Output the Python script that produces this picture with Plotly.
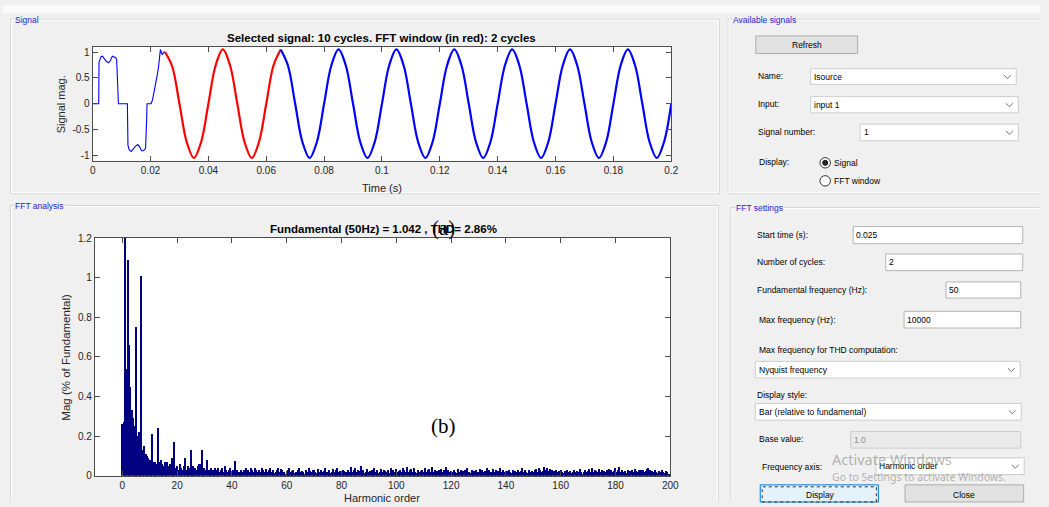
import plotly.graph_objects as go

W, H = 1049, 507
UI_FONT = "Liberation Sans, Arial, sans-serif"
SERIF = "Liberation Serif, Times New Roman, serif"

# ---------------- data ----------------
# transient part of the selected signal (first cycle + start of second)
SIGNAL_T_TRANSIENT = [0.0, 0.0021, 0.0022, 0.0025, 0.0029, 0.0034, 0.0040, 0.0047, 0.0055, 0.0062,
                      0.0068, 0.0074, 0.0080, 0.0083, 0.0086, 0.0089,
                      0.0120, 0.0122, 0.0125, 0.0129, 0.0134, 0.0140, 0.0148, 0.0156, 0.0163,
                      0.0169, 0.0175, 0.0180, 0.0183, 0.0186, 0.0188,
                      0.0202, 0.0207, 0.0212, 0.0217, 0.0223, 0.0228, 0.0232, 0.0234, 0.0237,
                      0.0240, 0.0243, 0.0246, 0.0250]
SIGNAL_V_TRANSIENT = [0.0, 0.0, 0.80, 0.87, 0.91, 0.92, 0.88, 0.82, 0.79, 0.84,
                      0.92, 0.91, 0.89, 0.85, 0.40, 0.0,
                      0.0, -0.80, -0.87, -0.91, -0.92, -0.88, -0.82, -0.79, -0.84,
                      -0.91, -0.91, -0.89, -0.85, -0.40, 0.0,
                      0.0, 0.08, 0.22, 0.35, 0.55, 0.72, 0.95, 1.05, 1.00,
                      0.95, 0.97, 1.00, 1.00]

# FFT window (red), 2 cycles
SIGNAL_T_WINDOW = [0.025, 0.0275, 0.03, 0.0325, 0.035, 0.0375, 0.04, 0.0425, 0.045, 0.0475,
                   0.05, 0.0525, 0.055, 0.0575, 0.06, 0.0625, 0.065]
SIGNAL_V_WINDOW = [1.00, 0.72, 0.0, -0.74, -1.05, -0.74, 0.0, 0.74, 1.05, 0.74,
                   0.0, -0.74, -1.05, -0.74, 0.0, 0.74, 1.05]

# remaining steady-state signal (blue)
SIGNAL_T_REST = [0.065, 0.0675, 0.07, 0.0725, 0.075, 0.0775, 0.08, 0.0825,
                 0.085, 0.0875, 0.09, 0.0925, 0.095, 0.0975, 0.1, 0.1025,
                 0.105, 0.1075, 0.11, 0.1125, 0.115, 0.1175, 0.12, 0.1225,
                 0.125, 0.1275, 0.13, 0.1325, 0.135, 0.1375, 0.14, 0.1425,
                 0.145, 0.1475, 0.15, 0.1525, 0.155, 0.1575, 0.16, 0.1625,
                 0.165, 0.1675, 0.17, 0.1725, 0.175, 0.1775, 0.18, 0.1825,
                 0.185, 0.1875, 0.19, 0.1925, 0.195, 0.1975, 0.2]
SIGNAL_V_REST = [1.05, 0.74, 0.0, -0.74, -1.05, -0.74, 0.0, 0.74,
                 1.05, 0.74, 0.0, -0.74, -1.05, -0.74, 0.0, 0.74,
                 1.05, 0.74, 0.0, -0.74, -1.05, -0.74, 0.0, 0.74,
                 1.05, 0.74, 0.0, -0.74, -1.05, -0.74, 0.0, 0.74,
                 1.05, 0.74, 0.0, -0.74, -1.05, -0.74, 0.0, 0.74,
                 1.05, 0.74, 0.0, -0.74, -1.05, -0.74, 0.0, 0.74,
                 1.05, 0.74, 0.0, -0.74, -1.05, -0.74, 0.0]

# FFT magnitude (% of fundamental), harmonic orders 0, 0.5, 1, ... 200
FFT_MAG = [
    0.26, 0.27, 100.0, 0.54, 1.09, 0.66, 0.45, 0.33, 0.29, 0.25, 0.75, 0.20, 0.22, 0.17, 1.01, 0.13, 0.15, 0.11, 0.10, 0.09,
    0.08, 0.08, 0.21, 0.07, 0.07, 0.06, 0.24, 0.07, 0.08, 0.06, 0.05, 0.07, 0.06, 0.07, 0.05, 0.06, 0.09, 0.04, 0.17, 0.04,
    0.05, 0.03, 0.06, 0.04, 0.03, 0.05, 0.09, 0.03, 0.05, 0.04, 0.13, 0.03, 0.05, 0.04, 0.03, 0.05, 0.06, 0.06, 0.13, 0.03,
    0.04, 0.03, 0.08, 0.03, 0.02, 0.04, 0.03, 0.02, 0.04, 0.03, 0.04, 0.02, 0.03, 0.04, 0.02, 0.05, 0.03, 0.02, 0.03, 0.04,
    0.02, 0.03, 0.075, 0.02, 0.03, 0.02, 0.02, 0.03, 0.02, 0.03, 0.04, 0.02, 0.03, 0.02, 0.04, 0.03, 0.02, 0.04, 0.03, 0.02,
    0.03, 0.02, 0.04, 0.03, 0.02, 0.035, 0.02, 0.03, 0.04, 0.02, 0.03, 0.015, 0.02, 0.03, 0.04, 0.02, 0.035, 0.03, 0.02, 0.01,
    0.02, 0.03, 0.04, 0.02, 0.025, 0.03, 0.015, 0.02, 0.03, 0.04, 0.02, 0.025, 0.02, 0.01, 0.03, 0.02, 0.04, 0.025, 0.02, 0.03,
    0.03, 0.02, 0.015, 0.035, 0.02, 0.03, 0.02, 0.025, 0.04, 0.02, 0.02, 0.03, 0.015, 0.02, 0.035, 0.02, 0.03, 0.04, 0.02, 0.025,
    0.02, 0.03, 0.025, 0.02, 0.015, 0.03, 0.02, 0.045, 0.02, 0.03, 0.04, 0.02, 0.03, 0.025, 0.05, 0.02, 0.03, 0.015, 0.02, 0.035,
    0.02, 0.025, 0.03, 0.02, 0.04, 0.02, 0.03, 0.015, 0.02, 0.035, 0.02, 0.03, 0.025, 0.02, 0.03, 0.015, 0.04, 0.02, 0.03, 0.02,
    0.035, 0.02, 0.025, 0.03, 0.02, 0.04, 0.03, 0.02, 0.045, 0.02, 0.03, 0.035, 0.02, 0.04, 0.02, 0.015, 0.03, 0.02, 0.025, 0.03,
    0.02, 0.04, 0.02, 0.03, 0.035, 0.02, 0.045, 0.02, 0.03, 0.02, 0.025, 0.03, 0.02, 0.035, 0.02, 0.03, 0.045, 0.02, 0.03, 0.02,
    0.025, 0.02, 0.03, 0.02, 0.015, 0.035, 0.02, 0.03, 0.02, 0.025, 0.03, 0.02, 0.04, 0.02, 0.015, 0.03, 0.02, 0.025, 0.03, 0.02,
    0.02, 0.035, 0.02, 0.03, 0.02, 0.025, 0.04, 0.02, 0.03, 0.02, 0.015, 0.035, 0.02, 0.03, 0.025, 0.02, 0.04, 0.02, 0.03, 0.02,
    0.02, 0.025, 0.03, 0.02, 0.015, 0.03, 0.02, 0.025, 0.02, 0.03, 0.02, 0.025, 0.04, 0.02, 0.03, 0.02, 0.015, 0.03, 0.02, 0.025,
    0.02, 0.03, 0.035, 0.02, 0.04, 0.03, 0.02, 0.025, 0.045, 0.03, 0.04, 0.025, 0.035, 0.02, 0.03, 0.025, 0.02, 0.03, 0.02, 0.025,
    0.03, 0.02, 0.015, 0.025, 0.02, 0.03, 0.02, 0.025, 0.015, 0.02, 0.03, 0.02, 0.025, 0.02, 0.035, 0.02, 0.01, 0.02, 0.03, 0.02,
    0.025, 0.035, 0.02, 0.04, 0.02, 0.03, 0.025, 0.02, 0.035, 0.02, 0.03, 0.02, 0.025, 0.02, 0.03, 0.035, 0.02, 0.03, 0.02, 0.025,
    0.04, 0.02, 0.03, 0.045, 0.02, 0.03, 0.02, 0.025, 0.015, 0.03, 0.02, 0.025, 0.03, 0.02, 0.035, 0.025, 0.02, 0.03, 0.02, 0.03,
    0.03, 0.02, 0.025, 0.035, 0.04, 0.03, 0.02, 0.025, 0.02, 0.03, 0.02, 0.015, 0.025, 0.02, 0.03, 0.02, 0.015, 0.025, 0.02, 0.01,
    0.01,
]
HARMONIC_ORDER = [i * 0.5 for i in range(len(FFT_MAG))]

TIME_TICKS = [0, 0.02, 0.04, 0.06, 0.08, 0.1, 0.12, 0.14, 0.16, 0.18, 0.2]
TIME_TICK_LABELS = ["0", "0.02", "0.04", "0.06", "0.08", "0.1", "0.12", "0.14", "0.16", "0.18", "0.2"]
SIG_TICKS = [-1, -0.5, 0, 0.5, 1]
SIG_TICK_LABELS = ["-1", "-0.5", "0", "0.5", "1"]
HARM_TICKS = [0, 20, 40, 60, 80, 100, 120, 140, 160, 180, 200]
HARM_TICK_LABELS = ["0", "20", "40", "60", "80", "100", "120", "140", "160", "180", "200"]
MAG_TICKS = [0, 0.2, 0.4, 0.6, 0.8, 1.0, 1.2]
MAG_TICK_LABELS = ["0", "0.2", "0.4", "0.6", "0.8", "1", "1.2"]


# ---------------- helpers (pixel -> paper) ----------------
def px(x):
    return x / W


def py(y):
    return 1 - y / H


shapes = []
annotations = []


def rect(x0, y0, x1, y1, fill=None, line="#b0b0b0", width=1, dash=None, layer="below"):
    shapes.append(dict(type="rect", xref="paper", yref="paper",
                       x0=px(x0), x1=px(x1), y0=py(y1), y1=py(y0),
                       fillcolor=fill if fill else "rgba(0,0,0,0)",
                       line=dict(color=line, width=width, dash=dash) if width else dict(width=0),
                       layer=layer))


def polyline(points, color, width=1):
    path = "M " + " L ".join("{},{}".format(px(x), py(y)) for (x, y) in points)
    shapes.append(dict(type="path", xref="paper", yref="paper", path=path,
                       line=dict(color=color, width=width), layer="below"))


def circle(cx, cy, r, fill, line="#333333", width=1):
    shapes.append(dict(type="circle", xref="paper", yref="paper",
                       x0=px(cx - r), x1=px(cx + r), y0=py(cy + r), y1=py(cy - r),
                       fillcolor=fill, line=dict(color=line, width=width), layer="above"))


def chevron(cx, cy):
    path = "M {},{} L {},{} L {},{}".format(px(cx - 3.5), py(cy - 1.5), px(cx), py(cy + 2),
                                             px(cx + 3.5), py(cy - 1.5))
    shapes.append(dict(type="path", xref="paper", yref="paper", path=path,
                       line=dict(color="#707070", width=1), layer="above"))


def txt(x, y, s, size=8.5, color="#000000", anchor="left", family=UI_FONT, bg=None, angle=0):
    d = dict(x=px(x), y=py(y), xref="paper", yref="paper", text=s, showarrow=False,
             xanchor=anchor, yanchor="middle", textangle=angle, borderpad=0,
             font=dict(size=size, color=color, family=family))
    if bg:
        d["bgcolor"] = bg
    annotations.append(d)


# ---------------- traces ----------------
fig = go.Figure()
fig.add_trace(go.Scatter(x=SIGNAL_T_TRANSIENT, y=SIGNAL_V_TRANSIENT, mode="lines",
                         line=dict(color="#0000ff", width=1.1), xaxis="x", yaxis="y",
                         hoverinfo="skip"))
fig.add_trace(go.Scatter(x=SIGNAL_T_WINDOW, y=SIGNAL_V_WINDOW, mode="lines",
                         line=dict(color="#ff0000", width=2.2, shape="spline"), xaxis="x", yaxis="y",
                         hoverinfo="skip"))
fig.add_trace(go.Scatter(x=SIGNAL_T_REST, y=SIGNAL_V_REST, mode="lines",
                         line=dict(color="#0000ff", width=2.2, shape="spline"), xaxis="x", yaxis="y",
                         hoverinfo="skip"))
fig.add_trace(go.Bar(x=HARMONIC_ORDER, y=FFT_MAG, width=0.5, xaxis="x2", yaxis="y2",
                     marker=dict(color="#000080", line=dict(width=0)), hoverinfo="skip"))

# ---------------- panels (all kept inside the page) ----------------
rect(0, 0, 1049, 9, fill="#fafafa", width=0)
PANEL = "#d2d2d2"
XR, YB = 1048.5, 506.5
# Signal panel (closed)
polyline([(7.5, 14.5), (724.5, 14.5), (724.5, 192.5), (7.5, 192.5), (7.5, 14.5)], PANEL)
polyline([(8.5, 15.5), (723.5, 15.5), (723.5, 191.5), (8.5, 191.5), (8.5, 15.5)], "#ffffff")
# Available signals (open on the right)
polyline([(XR, 14.5), (733.5, 14.5), (733.5, 192.5), (XR, 192.5)], PANEL)
polyline([(XR, 15.5), (734.5, 15.5), (734.5, 191.5), (XR, 191.5)], "#ffffff")
# FFT analysis (open at the bottom)
polyline([(7.5, YB), (7.5, 204.5), (723.5, 204.5), (723.5, YB)], PANEL)
polyline([(8.5, YB), (8.5, 205.5), (722.5, 205.5), (722.5, YB)], "#ffffff")
# FFT settings (open right and bottom)
polyline([(736.5, YB), (736.5, 206.5), (XR, 206.5)], PANEL)
polyline([(737.5, YB), (737.5, 207.5), (XR, 207.5)], "#ffffff")

BLUE_LBL = "#2424c8"
txt(11, 15, "Signal", size=8.5, color=BLUE_LBL, bg="#f0f0f0")
txt(737, 15, "Available signals", size=8.5, color=BLUE_LBL, bg="#f0f0f0")
txt(11, 205.5, "FFT analysis", size=8.5, color=BLUE_LBL, bg="#f0f0f0")
txt(740, 207, "FFT settings", size=8.5, color=BLUE_LBL, bg="#f0f0f0")

# ---------------- widgets: Available signals ----------------
rect(761.5, 31.5, 864.5, 49.5, fill="#e1e1e1", line="#adadad")
txt(813, 41, "Refresh", anchor="center")

DROP_LINE = "#cccccc"
BOX_LINE = "#b4b4b4"
dropdowns = [(817, 65, 1025, 81, "Isource"), (817, 93.5, 1027, 110, "input 1"),
             (867, 121.5, 1027, 138.5, "1"),
             (761, 363.5, 1029, 380.5, "Nyquist frequency"),
             (761, 406.5, 1030, 423.5, "Bar (relative to fundamental)"),
             (883, 462, 1033, 479, "Harmonic order")]
for (x0, y0, x1, y1, s) in dropdowns:
    rect(x0, y0, x1, y1, fill="#ffffff", line=DROP_LINE)
    txt(x0 + 2.5, (y0 + y1) / 2, s)
    chevron(x1 - 9, (y0 + y1) / 2)

textboxes = [(860, 226, 1031.5, 243.5, "0.025"), (893, 254, 1031.5, 271, "2"),
             (954, 282.5, 1029.5, 299, "50"), (911.5, 312.5, 1029.5, 329.5, "10000")]
for (x0, y0, x1, y1, s) in textboxes:
    rect(x0, y0, x1, y1, fill="#ffffff", line=BOX_LINE)
    txt(x0 + 2, (y0 + y1) / 2, s)
rect(857.5, 435, 1029.5, 452, fill="#eaeaea", line="#cccccc")
txt(859.5, 443.5, "1.0", color="#8c8c8c")

txt(763, 72.7, "Name:")
txt(763, 101.3, "Input:")
txt(763, 129.5, "Signal number:")
txt(764, 160, "Display:")
circle(831.7, 161, 5.3, "#ffffff")
circle(831.7, 161, 2.6, "#222222", line="#222222")
circle(831.7, 179.4, 5.3, "#ffffff")
txt(840, 161, "Signal")
txt(840, 179.5, "FFT window")

# ---------------- widgets: FFT settings ----------------
txt(762, 234.5, "Start time (s):")
txt(762, 262, "Number of cycles:")
txt(762, 291, "Fundamental frequency (Hz):")
txt(764, 321, "Max frequency (Hz):")
txt(764, 352, "Max frequency for THD computation:")
txt(762, 397.5, "Display style:")
txt(764, 443, "Base value:")
txt(767, 471, "Frequency axis:")

rect(766, 489.5, 885.5, 507, fill="#e5f1fb", line="#0078d7")
rect(768, 491.5, 883.5, 507, line="#333333", dash="dot")
txt(826.5, 499.5, "Display", anchor="center")
rect(912.5, 489.5, 1032.5, 507, fill="#e1e1e1", line="#adadad")
txt(972.5, 499.5, "Close", anchor="center")

txt(838, 463.5, "Activate Windows", size=14.5, color="rgba(120,120,120,0.55)",
    family="Noto Sans, Open Sans, sans-serif")
txt(838, 481, "Go to Settings to activate Windows.", size=10.5, color="rgba(120,120,120,0.55)",
    family="Noto Sans, Open Sans, sans-serif")

# ---------------- chart texts ----------------
txt(383, 34, "<b>Selected signal: 10 cycles. FFT window (in red): 2 cycles</b>", size=11.5,
    anchor="center")
txt(59, 101, "Signal mag.", size=11, color="#262626", anchor="center", angle=-90)
txt(383, 186.5, "Time (s)", size=11, color="#262626", anchor="center")
txt(384.5, 228, "<b>Fundamental (50Hz) = 1.042 , THD= 2.86%</b>", size=11.5, anchor="center")
txt(64, 359.5, "Mag (% of Fundamental)", size=11.5, color="#262626", anchor="center", angle=-90)
txt(383, 503, "Harmonic order", size=11, color="#262626", anchor="center")
txt(446, 227, "(a)", size=21, family=SERIF, anchor="center")
txt(446, 429, "(b)", size=21, family=SERIF, anchor="center")

# ---------------- axes ----------------
axis_common = dict(showline=True, linecolor="#4d4d4d", linewidth=1, mirror="ticks",
                   ticks="inside", ticklen=5, tickcolor="#4d4d4d", tickwidth=1,
                   showgrid=False, zeroline=False, fixedrange=True,
                   tickfont=dict(family=UI_FONT, size=10, color="#262626"))

fig.update_layout(
    width=W, height=H, autosize=False, margin=dict(l=0, r=0, t=0, b=0),
    paper_bgcolor="#f0f0f0", plot_bgcolor="#ffffff", showlegend=False, bargap=0,
    xaxis=dict(domain=[px(90.7), px(676)], range=[0, 0.2], tickvals=TIME_TICKS,
               ticktext=TIME_TICK_LABELS, anchor="y", **axis_common),
    yaxis=dict(domain=[py(158.7), py(42.7)], range=[-1.1, 1.1], tickvals=SIG_TICKS,
               ticktext=SIG_TICK_LABELS, anchor="x", **axis_common),
    xaxis2=dict(domain=[px(93), px(675)], range=[-10, 200], tickvals=HARM_TICKS,
                ticktext=HARM_TICK_LABELS, anchor="y2", **axis_common),
    yaxis2=dict(domain=[py(480.3), py(237.7)], range=[0, 1.2], tickvals=MAG_TICKS,
                ticktext=MAG_TICK_LABELS, anchor="x2", **axis_common),
    shapes=shapes, annotations=annotations,
)

fig.write_html("out.html", config={"displayModeBar": False})
